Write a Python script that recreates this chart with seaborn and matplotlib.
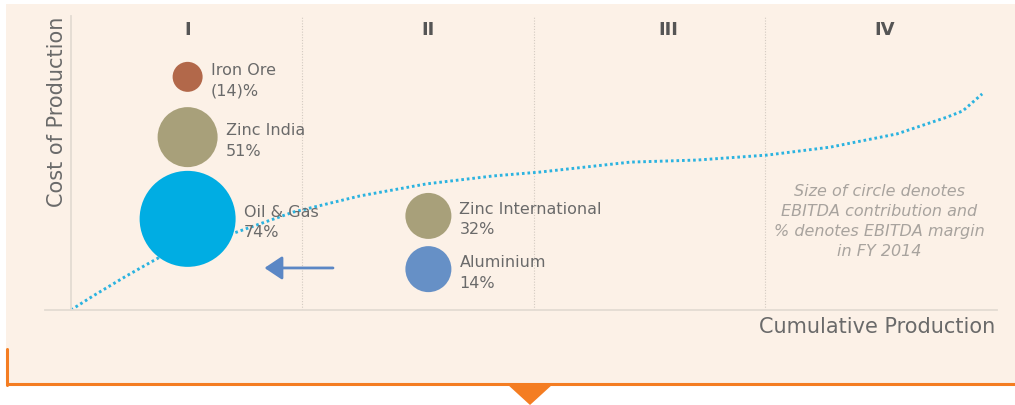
import numpy as np
import pandas as pd
import matplotlib
matplotlib.use("Agg")
import matplotlib.pyplot as plt
from matplotlib.patches import Rectangle, Polygon
from matplotlib.lines import Line2D
import seaborn as sns

# cost curve (cumulative production %, cost index)
curve_x = [0, 2.4, 6.0, 9.6, 17.9, 24.0, 31.2, 38.4, 45.6, 50.6, 60.4, 67.6, 75.2, 82.0, 89.2, 94.6, 96.3, 98.4]
curve_y = [0, 4.8, 11.6, 18.0, 26.5, 33.3, 38.8, 42.9, 45.6, 46.9, 50.3, 51.0, 52.7, 55.4, 59.9, 65.6, 67.7, 73.5]

# businesses
names = ["Iron Ore", "Zinc India", "Oil & Gas", "Zinc International", "Aluminium"]
margins = ["(14)%", "51%", "74%", "32%", "14%"]
bub_x = [12.6, 12.6, 12.6, 38.6, 38.6]
bub_y = [79.3, 58.8, 31.0, 32.0, 13.9]
bub_r = [15, 30, 48, 23, 23]  # relative EBITDA contribution (circle radius)

quartiles = ["I", "II", "III", "IV"]
quart_x = [12.6, 38.6, 64.5, 87.9]
bounds = [25, 50, 75]

colors = {"Iron Ore": "#b2684a", "Zinc India": "#a8a07a", "Oil & Gas": "#00ade3",
          "Zinc International": "#a8a07a", "Aluminium": "#6690c6"}

sns.set_theme(style="white")
plt.rcParams["font.family"] = ["DejaVu Sans"]

BG = "#fcf1e7"
ORANGE = "#f47d22"
GREY = "#6a6a6a"

fig = plt.figure(figsize=(10.15, 4.06), dpi=100, facecolor="white")
fig.patches.append(Rectangle((6/1015, 21/406), 1, 380/406, transform=fig.transFigure,
                             facecolor=BG, edgecolor="none", zorder=-5))

ax = fig.add_axes([45/1015, 95/406, 952/1015, 294/406])
ax.set_facecolor("none")
ax.set_xlim(-2.8, 100)
ax.set_ylim(0, 100)

df = pd.DataFrame({"name": names, "x": bub_x, "y": bub_y,
                   "s": [(1.44 * r) ** 2 for r in bub_r]})
cv = pd.DataFrame({"x": curve_x, "y": curve_y})

for b in bounds:
    ax.axvline(b, color="#d3cac1", lw=0.8, ls=(0, (1, 1.5)), zorder=0)

sns.lineplot(data=cv, x="x", y="y", ax=ax, color="#2bb3e0", lw=2.1,
             linestyle=(0, (0.9, 1.0)), zorder=1, sort=False)

sns.scatterplot(data=df, x="x", y="y", hue="name", palette=colors, size="name",
                sizes=dict(zip(names, df["s"])), legend=False, ax=ax,
                edgecolor="none", alpha=1, zorder=2)

for n, m, x, y, r in zip(names, margins, bub_x, bub_y, bub_r):
    ax.annotate(f"{n}\n{m}", (x, y), xytext=((r + 8) * 0.72, -2), textcoords="offset points",
                ha="left", va="center", fontsize=11.5, color=GREY, linespacing=1.45, zorder=3)

for q, x in zip(quartiles, quart_x):
    ax.text(x, 95.6, q, ha="center", va="center", fontsize=13, color="#555555", fontweight="bold")

ax.annotate("", xy=(20.9, 14.3), xytext=(28.3, 14.3),
            arrowprops=dict(arrowstyle="-|>,head_length=0.9,head_width=0.6", lw=2,
                            color="#5b87c5", shrinkA=0, shrinkB=0))

ax.text(87.3, 30.4, "Size of circle denotes\nEBITDA contribution and\n% denotes EBITDA margin\nin FY 2014",
        ha="center", va="center", fontsize=11.5, style="italic", color="#a8a39e", linespacing=1.42)

ax.text(99.8, -5.4, "Cumulative Production", ha="right", va="center", fontsize=15,
        color=GREY, clip_on=False)
ax.text(-1.5, 100, "Cost of Production", ha="center", va="top", rotation=90, fontsize=15,
        color=GREY, clip_on=False)

ax.set_xticks([]); ax.set_yticks([])
ax.set_xlabel(""); ax.set_ylabel("")
for s in ["top", "right"]:
    ax.spines[s].set_visible(False)
ax.spines["left"].set_position(("data", 0))
for s in ["left", "bottom"]:
    ax.spines[s].set_color("#e3dbd3")
    ax.spines[s].set_linewidth(1.3)

# orange frame and pointer
fig.add_artist(Line2D([7/1015, 7/1015], [20/406, 56/406], color=ORANGE, lw=2.2))
fig.add_artist(Line2D([7/1015, 1], [21/406, 21/406], color=ORANGE, lw=2.2))
fig.add_artist(Polygon([(507/1015, 21/406), (553/1015, 21/406), (530/1015, 0)],
                       closed=True, facecolor=ORANGE, edgecolor="none"))

fig.savefig("out.png", dpi=100)
